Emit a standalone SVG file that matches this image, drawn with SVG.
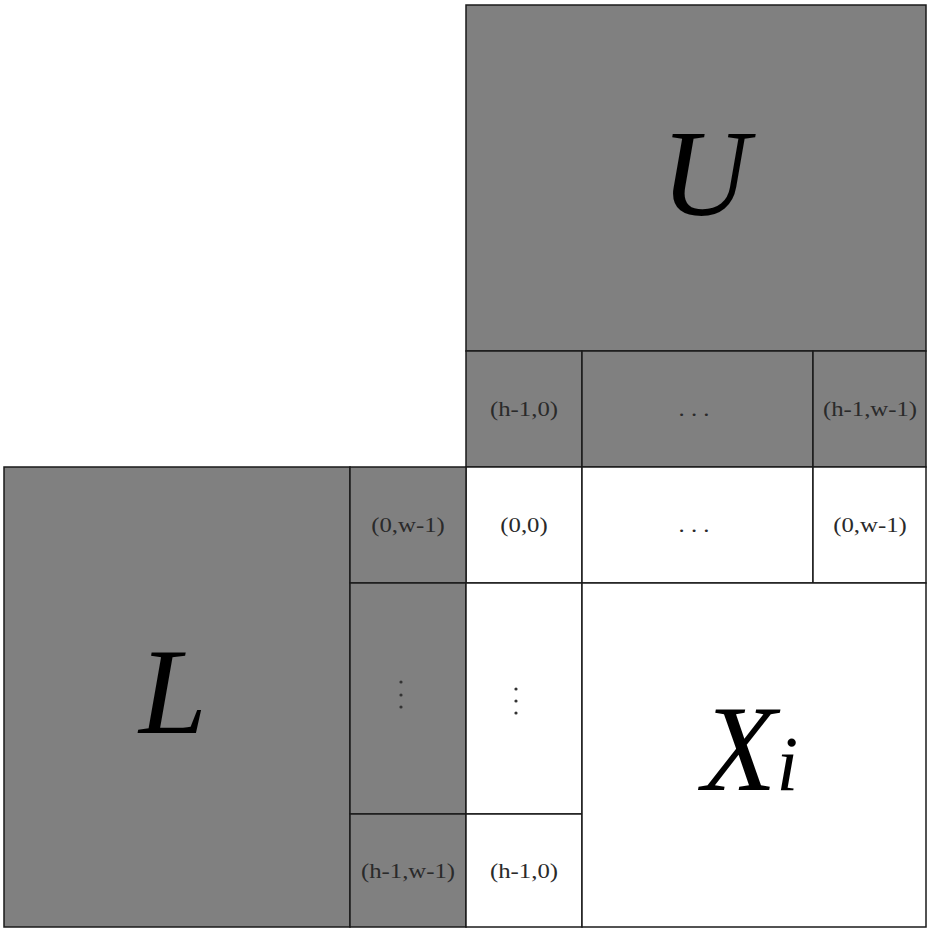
<svg xmlns="http://www.w3.org/2000/svg" width="927" height="928" viewBox="0 0 927 928">
<style>
.g{fill:#808080;stroke:#1a1a1a;stroke-width:1.5}
.w{fill:#ffffff;stroke:#1a1a1a;stroke-width:1.5}
.lab{font-family:"Liberation Serif",serif;font-size:21px;fill:#2a2a2a;text-anchor:middle}
.big{font-family:"Liberation Serif",serif;font-style:italic;font-size:122px;fill:#000}
.dot{fill:#333}
</style>
<g id="U"><rect class="g" x="466" y="5" width="460" height="346"/><text class="big" x="705" y="215" text-anchor="middle">U</text></g>
<g id="u_h1_0"><rect class="g" x="466" y="351" width="116" height="116"/><text class="lab" transform="translate(524,416) scale(1.18,1)">(h-1,0)</text></g>
<g id="u_h1_dots"><rect class="g" x="582" y="351" width="231" height="116"/><text class="lab" transform="translate(694,416) scale(1.18,1)">. . .</text></g>
<g id="u_h1_w1"><rect class="g" x="813" y="351" width="113" height="116"/><text class="lab" transform="translate(870,416) scale(1.18,1)">(h-1,w-1)</text></g>
<g id="x_0_0"><rect class="w" x="466" y="467" width="116" height="116"/><text class="lab" transform="translate(524,532) scale(1.18,1)">(0,0)</text></g>
<g id="x_0_dots"><rect class="w" x="582" y="467" width="231" height="116"/><text class="lab" transform="translate(694,532) scale(1.18,1)">. . .</text></g>
<g id="x_0_w1"><rect class="w" x="813" y="467" width="113" height="116"/><text class="lab" transform="translate(870,532) scale(1.18,1)">(0,w-1)</text></g>
<g id="L"><rect class="g" x="4" y="467" width="346" height="460"/><text class="big" x="139" y="733">L</text></g>
<g id="l_0_w1"><rect class="g" x="350" y="467" width="116" height="116"/><text class="lab" transform="translate(408,532) scale(1.18,1)">(0,w-1)</text></g>
<g id="l_vdots"><rect class="g" x="350" y="583" width="116" height="231"/><circle class="dot" cx="401" cy="682" r="1.6"/><circle class="dot" cx="401" cy="695" r="1.6"/><circle class="dot" cx="401" cy="707" r="1.6"/></g>
<g id="l_h1_w1"><rect class="g" x="350" y="814" width="116" height="113"/><text class="lab" transform="translate(408,878) scale(1.18,1)">(h-1,w-1)</text></g>
<g id="x_vdots"><rect class="w" x="466" y="583" width="116" height="231"/><circle class="dot" cx="516" cy="689" r="1.6"/><circle class="dot" cx="516" cy="701" r="1.6"/><circle class="dot" cx="516" cy="713" r="1.6"/></g>
<g id="x_h1_0"><rect class="w" x="466" y="814" width="116" height="113"/><text class="lab" transform="translate(524,878) scale(1.18,1)">(h-1,0)</text></g>
<g id="Xi"><rect class="w" x="582" y="583" width="344" height="344"/><text class="big" x="702" y="790">X<tspan font-size="78px">i</tspan></text></g>
<g id="connectors"/>
</svg>
